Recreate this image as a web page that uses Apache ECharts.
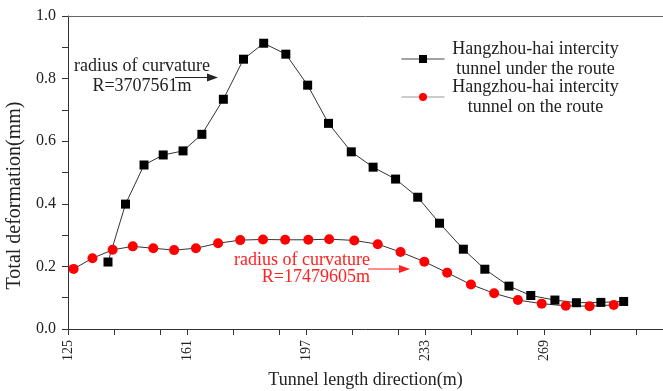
<!DOCTYPE html>
<head>
    <meta charset="utf-8">
    <title>ECharts</title>
</head>
<body style="margin:0">
<div id="main" style="width:663px;height:391px"></div>
<script src="https://cdn.jsdelivr.net/npm/echarts@6/dist/echarts.min.js"></script>
<script type="text/javascript">
    // tunnel under the route (black squares)
    var underX = [137.1, 142.4, 148.0, 153.8, 159.8, 165.5, 172.0, 178.1, 184.2, 190.9, 197.5, 203.8, 210.7,
        217.3, 224.1, 230.8, 237.4, 244.6, 251.1, 258.4, 265.0, 272.3, 278.8, 286.2, 293.1];
    var underY = [0.214, 0.399, 0.524, 0.556, 0.569, 0.622, 0.734, 0.862, 0.913, 0.878, 0.779, 0.657, 0.566,
        0.517, 0.479, 0.421, 0.338, 0.255, 0.191, 0.137, 0.107, 0.0925, 0.084, 0.085, 0.088];
    // tunnel on the route (red dots)
    var onX = [126.7, 132.4, 138.5, 144.6, 150.8, 157.1, 163.7, 170.4, 177.1, 184.0, 190.7, 197.7, 204.0,
        211.6, 218.7, 225.6, 232.8, 239.7, 246.9, 253.9, 261.1, 268.3, 275.6, 282.8, 290.1];
    var onY = [0.192, 0.226, 0.253, 0.264, 0.258, 0.252, 0.258, 0.274, 0.284, 0.286, 0.285, 0.285, 0.287,
        0.283, 0.271, 0.246, 0.215, 0.180, 0.142, 0.114, 0.0925, 0.081, 0.074, 0.073, 0.077];

    var xLabels = [125, 161, 197, 233, 269];
    var xTicks = [125, 139, 153, 161, 175, 189, 197, 211, 225, 233, 247, 261, 269, 283, 297];

    var nameUnder = 'Hangzhou-hai intercity\ntunnel under the route';
    var nameOn = 'Hangzhou-hai intercity\ntunnel on the route';

    function pairs(xs, ys) {
        return xs.map(function (x, i) { return [x, ys[i]]; });
    }

    var font = 'Liberation Serif';
    var myChart = echarts.init(document.getElementById('main'));
    myChart.setOption({
        animation: false,
        textStyle: { fontFamily: font, color: '#222' },
        grid: { left: 68, top: 16, right: 0, bottom: 62, outerBoundsMode: 'none' },
        legend: {
            orient: 'vertical',
            left: 396,
            top: 35,
            itemWidth: 43,
            itemHeight: 10,
            itemGap: 0,
            data: [
                { name: nameUnder, lineStyle: { color: '#444', width: 1 } },
                { name: nameOn, lineStyle: { color: '#999', width: 1 } }
            ],
            formatter: function (name) {
                return name.split('\n').map(function (s) { return '{t|' + s + '}'; }).join('\n');
            },
            textStyle: {
                rich: {
                    t: { width: 172, align: 'center', fontSize: 18, lineHeight: 20, fontFamily: font, color: '#222' }
                }
            }
        },
        xAxis: [{
            type: 'value',
            min: 125,
            max: 305,
            name: 'Tunnel length direction(m)',
            nameLocation: 'middle',
            nameGap: 42,
            nameTextStyle: { fontSize: 18, fontFamily: font, color: '#222' },
            axisLine: { lineStyle: { color: '#333' } },
            axisTick: { customValues: xTicks, length: 6, lineStyle: { color: '#333' } },
            axisLabel: { customValues: xLabels, rotate: 90, margin: 11, fontSize: 14, fontFamily: font, color: '#222' },
            splitLine: { show: false }
        }, {
            type: 'value',
            position: 'top',
            min: 125,
            max: 305,
            axisLine: { show: true, lineStyle: { color: '#666' } },
            axisTick: { show: false },
            axisLabel: { show: false },
            splitLine: { show: false }
        }],
        yAxis: {
            type: 'value',
            min: 0,
            max: 1,
            interval: 0.2,
            name: 'Total deformation(mm)',
            nameLocation: 'middle',
            nameGap: 40,
            nameTextStyle: { fontSize: 20, fontFamily: font, color: '#222', padding: [0, 46, 0, 0] },
            axisLine: { show: true, lineStyle: { color: '#333' } },
            axisTick: { show: true, length: 6, lineStyle: { color: '#333' } },
            minorTick: { show: true, splitNumber: 2, length: 6, lineStyle: { color: '#333' } },
            axisLabel: {
                margin: 12, fontSize: 16, fontFamily: font, color: '#222',
                formatter: function (v) { return v.toFixed(1); }
            },
            splitLine: { show: false }
        },
        series: [{
            name: nameOn,
            type: 'line',
            data: pairs(onX, onY),
            symbol: 'circle',
            symbolSize: 10,
            itemStyle: { color: '#ff0000' },
            lineStyle: { color: '#333', width: 1 }
        }, {
            name: nameUnder,
            type: 'line',
            data: pairs(underX, underY),
            symbol: 'rect',
            symbolSize: 9,
            itemStyle: { color: '#000' },
            lineStyle: { color: '#333', width: 1 }
        }],
        graphic: [{
            type: 'text',
            x: 142, y: 76,
            style: {
                text: 'radius of curvature\nR=3707561m',
                font: '18px ' + font,
                lineHeight: 20,
                align: 'center',
                verticalAlign: 'middle',
                fill: '#222'
            }
        }, {
            type: 'line',
            shape: { x1: 175, y1: 77.5, x2: 210, y2: 77.5 },
            style: { stroke: '#222', lineWidth: 1.2 }
        }, {
            type: 'polygon',
            shape: { points: [[207, 73.5], [218, 77.5], [207, 81.5]] },
            style: { fill: '#222' }
        }, {
            type: 'text',
            x: 370, y: 269,
            style: {
                text: 'radius of curvature\nR=17479605m',
                font: '18px ' + font,
                lineHeight: 17,
                align: 'right',
                verticalAlign: 'middle',
                fill: '#ff2020'
            }
        }, {
            type: 'line',
            shape: { x1: 368, y1: 269, x2: 402, y2: 269 },
            style: { stroke: '#ff2020', lineWidth: 1.2 }
        }, {
            type: 'polygon',
            shape: { points: [[399, 265], [410, 269], [399, 273]] },
            style: { fill: '#ff2020' }
        }]
    });
</script>
</body>
